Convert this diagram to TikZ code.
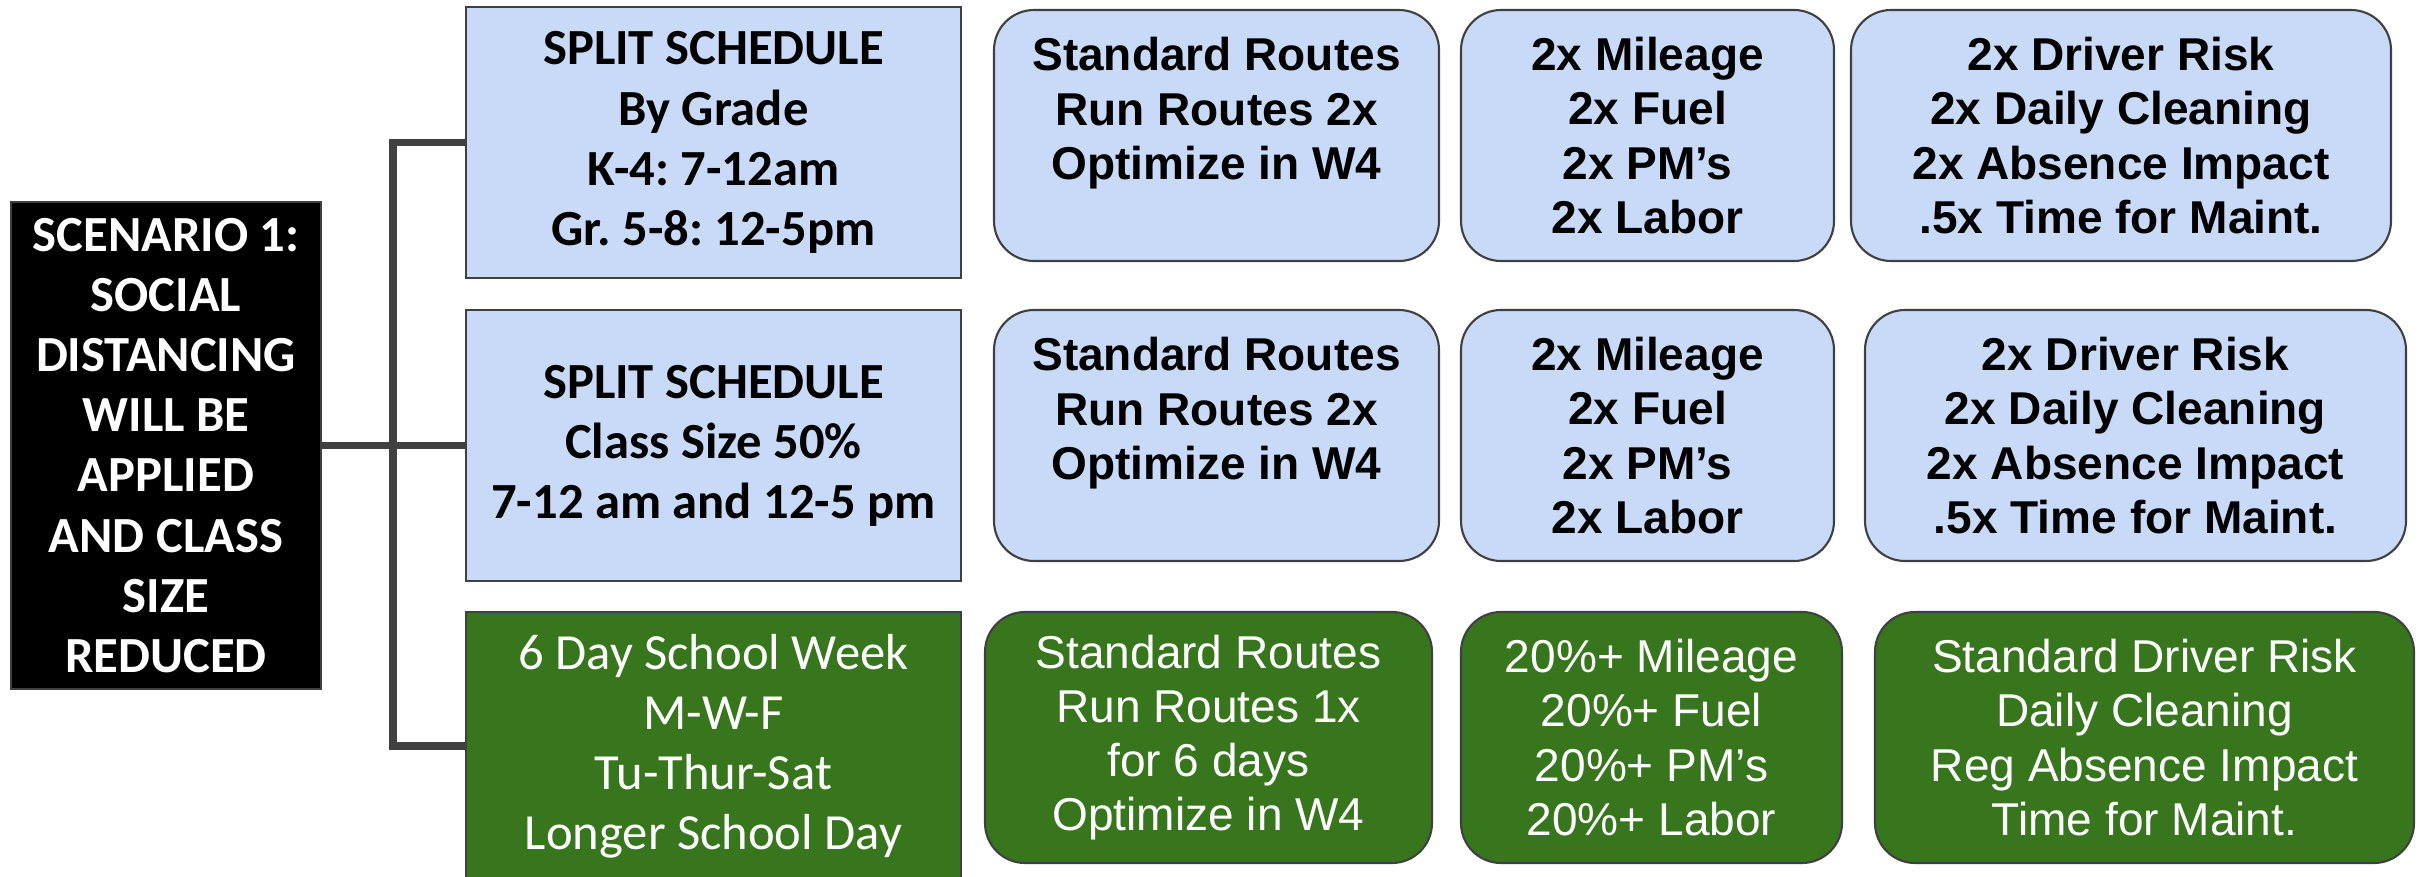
\documentclass[tikz,border=0pt]{standalone}
\usepackage{fontspec}
\setmainfont{Liberation Sans}
\newfontfamily\calfont{Carlito}
\definecolor{paleblue}{HTML}{C9DAF8}
\definecolor{darkgreen}{HTML}{38761D}
\definecolor{edgegray}{HTML}{404040}
\frenchspacing

\begin{document}
\begin{tikzpicture}[x=0.1mm, y=-0.1mm,
    plan/.style={draw=edgegray, line width=0.6pt, align=center, inner sep=0pt,
      minimum width=49.5mm, minimum height=27.1mm,
      font=\calfont\fontsize{14.4}{17.1}\selectfont},
    effect/.style={draw=edgegray, line width=0.6pt, align=center, inner sep=0pt,
      rounded corners=4mm, minimum height=25.1mm,
      font=\fontsize{13.1}{15.4}\selectfont},
    bluebox/.style={fill=paleblue, text=black, execute at begin node=\bfseries},
    greenbox/.style={fill=darkgreen, text=white},
    branch/.style={draw=edgegray, line width=2pt}]
\useasboundingbox (0,0) rectangle (2425,877);

% scenario
\node[plan, fill=black, text=white, execute at begin node=\bfseries, minimum width=31mm, minimum height=48.7mm]
  (scen) at (166,445.5) {SCENARIO 1:\\SOCIAL\\DISTANCING\\WILL BE\\APPLIED\\AND CLASS\\SIZE\\REDUCED};

% options
\node[plan, bluebox] (split1) at (713.5,142.5) {SPLIT SCHEDULE\\By Grade\\K-4: 7-12am\\Gr. 5-8: 12-5pm};
\node[plan, bluebox] (split2) at (713.5,445.5) {SPLIT SCHEDULE\\Class Size 50\%\\7-12 am and 12-5 pm};
\node[plan, greenbox, minimum height=26.8mm] (week) at (713.5,746) {6 Day School Week\\M-W-F\\Tu-Thur-Sat\\Longer School Day};

% row 1
\node[effect, bluebox, minimum width=44.5mm] (routes1) at (1216.5,135.5) {Standard Routes\\Run Routes 2x\\Optimize in W4\\~};
\node[effect, bluebox, minimum width=37.3mm] (cost1) at (1647.5,135.5) {2x Mileage\\2x Fuel\\2x PM’s\\2x Labor};
\node[effect, bluebox, minimum width=54mm] (risk1) at (2121,135.5) {2x Driver Risk\\2x Daily Cleaning\\2x Absence Impact\\.5x Time for Maint.};

% row 2
\node[effect, bluebox, minimum width=44.5mm] (routes2) at (1216.5,435.5) {Standard Routes\\Run Routes 2x\\Optimize in W4\\~};
\node[effect, bluebox, minimum width=37.3mm] (cost2) at (1647.5,435.5) {2x Mileage\\2x Fuel\\2x PM’s\\2x Labor};
\node[effect, bluebox, minimum width=54.1mm] (risk2) at (2135.5,435.5) {2x Driver Risk\\2x Daily Cleaning\\2x Absence Impact\\.5x Time for Maint.};

% row 3
\node[effect, greenbox, minimum width=44.7mm] (routes3) at (1208.5,737.5) {Standard Routes\\Run Routes 1x\\for 6 days\\Optimize in W4};
\node[effect, greenbox, minimum width=38.1mm] (cost3) at (1651.5,737.5) {20\%+ Mileage\\20\%+ Fuel\\20\%+ PM’s\\20\%+ Labor};
\node[effect, greenbox, minimum width=53.9mm] (risk3) at (2144.5,737.5) {Standard Driver Risk\\Daily Cleaning\\Reg Absence Impact\\Time for Maint.};

% tree
\coordinate (fork) at (393,445.5);
\draw[branch] (scen.east) -- (split2.west);
\draw[branch] (split1.west) -| (fork) |- (week.west);
\end{tikzpicture}
\end{document}
